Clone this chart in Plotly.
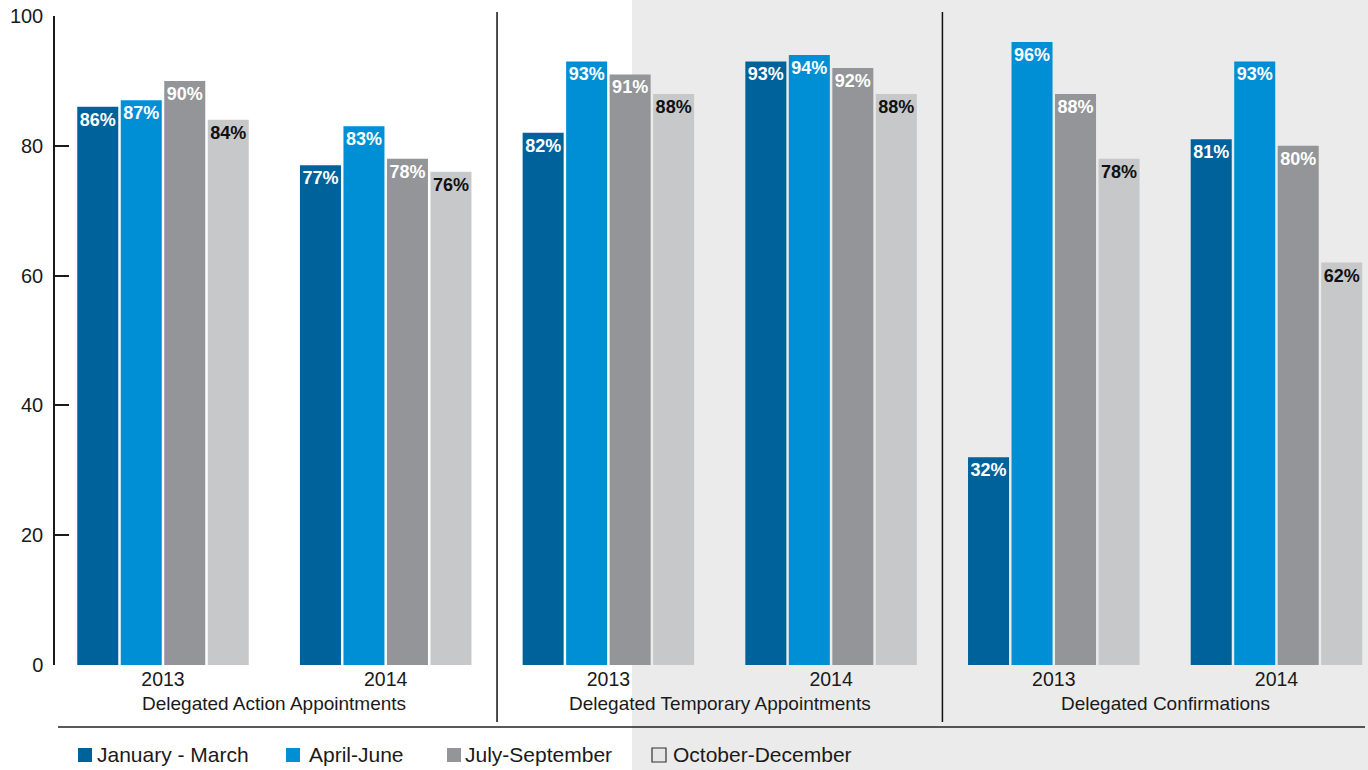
import plotly.graph_objects as go

# Quarterly rates by program and year
years = ["2013", "2014", "2013", "2014", "2013", "2014"]
programs = ["Delegated Action Appointments",
            "Delegated Temporary Appointments",
            "Delegated Confirmations"]
quarters = ["January - March", "April-June", "July-September", "October-December"]
jan_mar = [86, 77, 82, 93, 32, 81]
apr_jun = [87, 83, 93, 94, 96, 93]
jul_sep = [90, 78, 91, 92, 88, 80]
oct_dec = [84, 76, 88, 88, 78, 62]
y_ticks = [0, 20, 40, 60, 80, 100]

series = [jan_mar, apr_jun, jul_sep, oct_dec]
colors = ["#00629B", "#008FD5", "#939598", "#C7C8CA"]
text_colors = ["white", "white", "white", "#111111"]
FONT = "Liberation Sans, Arial, Helvetica, sans-serif"

W, H = 1368, 770
ML, MR, MT, MB = 55, 0, 16, 105
PW, PH = W - ML - MR, H - MT - MB


def px(xp):
    return (xp - ML) / PW


def py(yp):
    return (H - MB - yp) / PH


x_pos = list(range(len(years)))

fig = go.Figure()
for name, vals, col, tcol in zip(quarters, series, colors, text_colors):
    fig.add_trace(go.Bar(
        x=x_pos, y=vals, name=name, marker=dict(color=col, line_width=0),
        text=[f"{v}%" for v in vals], textposition="inside",
        insidetextanchor="end", textangle=0,
        textfont=dict(family=FONT, size=18, color=tcol, weight="bold"),
        showlegend=False, hoverinfo="skip",
    ))

shapes = [
    # shaded panel on the right
    dict(type="rect", xref="paper", yref="paper", x0=px(632), x1=1.02,
         y0=-0.3, y1=1.1, fillcolor="#EBEBEB", line_width=0, layer="below"),
    # separators between programs
    dict(type="line", xref="x", yref="paper", x0=1.5, x1=1.5,
         y0=py(722), y1=py(12), line=dict(color="#111111", width=1.5)),
    dict(type="line", xref="x", yref="paper", x0=3.5, x1=3.5,
         y0=py(722), y1=py(12), line=dict(color="#111111", width=1.5)),
    # rule above the legend
    dict(type="line", xref="paper", yref="paper", x0=px(58), x1=px(1365),
         y0=py(727), y1=py(727), line=dict(color="#222222", width=1.5)),
]

annotations = []
for i, prog in enumerate(programs):
    annotations.append(dict(
        x=2 * i + 0.5, xref="x", y=py(703), yref="paper", text=prog,
        showarrow=False, xanchor="center", yanchor="middle",
        font=dict(family=FONT, size=19, color="#1a1a1a")))

# legend entries
sw_x = [78, 286, 447, 652]
lbl_x = [95, 307, 463, 671]
sw_fill = colors[:3] + ["#E6E6E6"]
sw_line = [None, None, None, "#333333"]
for q, sx, lx, fc, lc in zip(quarters, sw_x, lbl_x, sw_fill, sw_line):
    shapes.append(dict(
        type="rect", xref="paper", yref="paper",
        x0=px(sx), x1=px(sx + 14), y0=py(762), y1=py(748),
        fillcolor=fc, line=dict(color=lc, width=1.2) if lc else dict(width=0)))
    annotations.append(dict(
        x=px(lx), xref="paper", y=py(754), yref="paper", text=q,
        showarrow=False, xanchor="left", yanchor="middle",
        font=dict(family=FONT, size=21, color="#1a1a1a")))

fig.update_layout(
    width=W, height=H,
    margin=dict(l=ML, r=MR, t=MT, b=MB, pad=0),
    paper_bgcolor="white", plot_bgcolor="rgba(0,0,0,0)",
    barmode="group", bargap=0.2187, bargroupgap=0.057,
    uniformtext=dict(minsize=18, mode="show"),
    font=dict(family=FONT, color="#1a1a1a"),
    shapes=shapes, annotations=annotations,
    xaxis=dict(range=[-0.485, 5.411], tickvals=x_pos, ticktext=years,
               showline=False, showgrid=False, zeroline=False, ticks="",
               tickfont=dict(family=FONT, size=19.5, color="#1a1a1a")),
    yaxis=dict(range=[0, 100], tickvals=y_ticks, showgrid=False,
               zeroline=False, showline=True, linecolor="#1a1a1a",
               linewidth=1.5, ticks="inside", ticklen=14, tickwidth=1.5,
               tickcolor="#1a1a1a", ticklabelstandoff=6,
               tickfont=dict(family=FONT, size=20, color="#1a1a1a")),
)

fig.write_html("out.html")
